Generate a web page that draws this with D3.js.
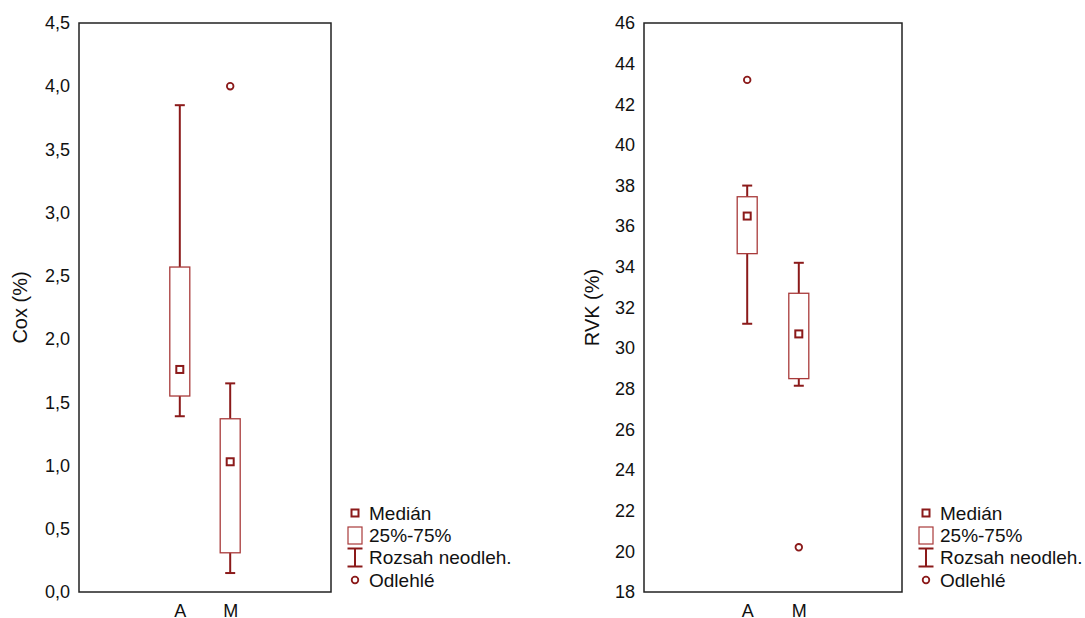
<!DOCTYPE html>
<html>
<head>
<meta charset="utf-8">
<script src="https://cdn.jsdelivr.net/npm/d3@7"></script>
<style>
  body { margin: 0; background: #fff; }
  svg text { font-family: "Liberation Sans", Arial, sans-serif; fill: #111; }
</style>
</head>
<body>
<div id="chart"></div>
<script>
const width = 1085;
const height = 618;

const categories = ["A", "M"];

// Cox (%)
const coxLow = [1.39, 0.15];
const coxQ1 = [1.55, 0.31];
const coxMedian = [1.76, 1.03];
const coxQ3 = [2.57, 1.37];
const coxHigh = [3.85, 1.65];
const coxOutliers = [[], [4.0]];
const coxTicks = [0, 0.5, 1, 1.5, 2, 2.5, 3, 3.5, 4, 4.5];

// RVK (%)
const rvkLow = [31.2, 28.15];
const rvkQ1 = [34.65, 28.5];
const rvkMedian = [36.5, 30.7];
const rvkQ3 = [37.45, 32.7];
const rvkHigh = [38.0, 34.2];
const rvkOutliers = [[43.2], [20.2]];
const rvkTicks = [18, 20, 22, 24, 26, 28, 30, 32, 34, 36, 38, 40, 42, 44, 46];

const legendItems = ["Medián", "25%-75%", "Rozsah neodleh.", "Odlehlé"];

const dark = "#8b1a1a";
const boxColor = "#a83a3a";

const svg = d3.select("#chart")
    .append("svg")
    .attr("width", width)
    .attr("height", height);

function drawPanel(p) {
    const g = svg.append("g");

    const x = d3.scalePoint()
        .domain(categories)
        .range([p.left, p.right])
        .padding(2);

    const y = d3.scaleLinear()
        .domain([p.ticks[0], p.ticks[p.ticks.length - 1]])
        .range([p.bottom, p.top]);

    // y tick labels (no tick lines)
    const yAxis = d3.axisLeft(y)
        .tickValues(p.ticks)
        .tickSize(0)
        .tickPadding(9)
        .tickFormat(p.format);
    g.append("g")
        .attr("transform", `translate(${p.left},0)`)
        .call(yAxis)
        .call(a => a.select(".domain").remove())
        .selectAll("text")
        .style("font-size", "18px")
        .attr("fill", "#111");

    const xAxis = d3.axisBottom(x).tickSize(0).tickPadding(12);
    g.append("g")
        .attr("transform", `translate(0,${p.bottom})`)
        .call(xAxis)
        .call(a => a.select(".domain").remove())
        .selectAll("text")
        .style("font-size", "18px")
        .attr("fill", "#111");

    g.append("text")
        .attr("transform", `translate(${p.titleX},${(p.top + p.bottom) / 2}) rotate(-90)`)
        .attr("text-anchor", "middle")
        .style("font-size", "20px")
        .text(p.title);

    const boxW = 20, capW = 9, mk = 7;

    categories.forEach((c, i) => {
        const cx = x(c);
        // whiskers
        g.append("line")
            .attr("x1", cx).attr("x2", cx)
            .attr("y1", y(p.high[i])).attr("y2", y(p.q3[i]))
            .attr("stroke", dark).attr("stroke-width", 2);
        g.append("line")
            .attr("x1", cx).attr("x2", cx)
            .attr("y1", y(p.q1[i])).attr("y2", y(p.low[i]))
            .attr("stroke", dark).attr("stroke-width", 2);
        [p.high[i], p.low[i]].forEach(v => {
            g.append("line")
                .attr("x1", cx - capW / 2 - 0.5).attr("x2", cx + capW / 2 + 0.5)
                .attr("y1", y(v)).attr("y2", y(v))
                .attr("stroke", dark).attr("stroke-width", 2);
        });
        // box
        g.append("rect")
            .attr("x", cx - boxW / 2)
            .attr("y", y(p.q3[i]))
            .attr("width", boxW)
            .attr("height", y(p.q1[i]) - y(p.q3[i]))
            .attr("fill", "none")
            .attr("stroke", boxColor)
            .attr("stroke-width", 1.3);
        // median
        g.append("rect")
            .attr("x", cx - mk / 2)
            .attr("y", y(p.median[i]) - mk / 2)
            .attr("width", mk).attr("height", mk)
            .attr("fill", "#fff")
            .attr("stroke", dark).attr("stroke-width", 2);
        // outliers
        p.outliers[i].forEach(v => {
            g.append("circle")
                .attr("cx", cx).attr("cy", y(v))
                .attr("r", 3.3)
                .attr("fill", "#fff")
                .attr("stroke", dark).attr("stroke-width", 1.8);
        });
    });

    // frame
    g.append("rect")
        .attr("x", p.left).attr("y", p.top)
        .attr("width", p.right - p.left)
        .attr("height", p.bottom - p.top)
        .attr("fill", "none")
        .attr("stroke", "#222")
        .attr("stroke-width", 1.5);

    // legend
    const lx = p.right + 24;
    const rowY = [513, 535.5, 557.5, 580];
    const leg = g.append("g");
    leg.append("rect")
        .attr("x", lx - 3.5).attr("y", rowY[0] - 3.5)
        .attr("width", 7).attr("height", 7)
        .attr("fill", "#fff").attr("stroke", dark).attr("stroke-width", 2);
    leg.append("rect")
        .attr("x", lx - 7).attr("y", rowY[1] - 8.5)
        .attr("width", 14).attr("height", 17)
        .attr("fill", "none").attr("stroke", boxColor).attr("stroke-width", 1.2);
    leg.append("line")
        .attr("x1", lx).attr("x2", lx)
        .attr("y1", rowY[2] - 9).attr("y2", rowY[2] + 9)
        .attr("stroke", dark).attr("stroke-width", 2);
    [rowY[2] - 9, rowY[2] + 9].forEach(yy => {
        leg.append("line")
            .attr("x1", lx - 7.5).attr("x2", lx + 7.5)
            .attr("y1", yy).attr("y2", yy)
            .attr("stroke", dark).attr("stroke-width", 2);
    });
    leg.append("circle")
        .attr("cx", lx).attr("cy", rowY[3])
        .attr("r", 3.3)
        .attr("fill", "#fff").attr("stroke", dark).attr("stroke-width", 1.8);
    legendItems.forEach((t, i) => {
        leg.append("text")
            .attr("x", lx + 14)
            .attr("y", rowY[i] + 6.5)
            .style("font-size", "19px")
            .text(t);
    });
}

const fmtComma = d => d3.format(".1f")(d).replace(".", ",");

drawPanel({
    left: 79, right: 331, top: 23, bottom: 592,
    ticks: coxTicks, format: fmtComma,
    title: "Cox (%)", titleX: 27,
    low: coxLow, q1: coxQ1, median: coxMedian, q3: coxQ3, high: coxHigh, outliers: coxOutliers
});

drawPanel({
    left: 644, right: 902, top: 23, bottom: 592,
    ticks: rvkTicks, format: d3.format("d"),
    title: "RVK (%)", titleX: 599,
    low: rvkLow, q1: rvkQ1, median: rvkMedian, q3: rvkQ3, high: rvkHigh, outliers: rvkOutliers
});
</script>
</body>
</html>
